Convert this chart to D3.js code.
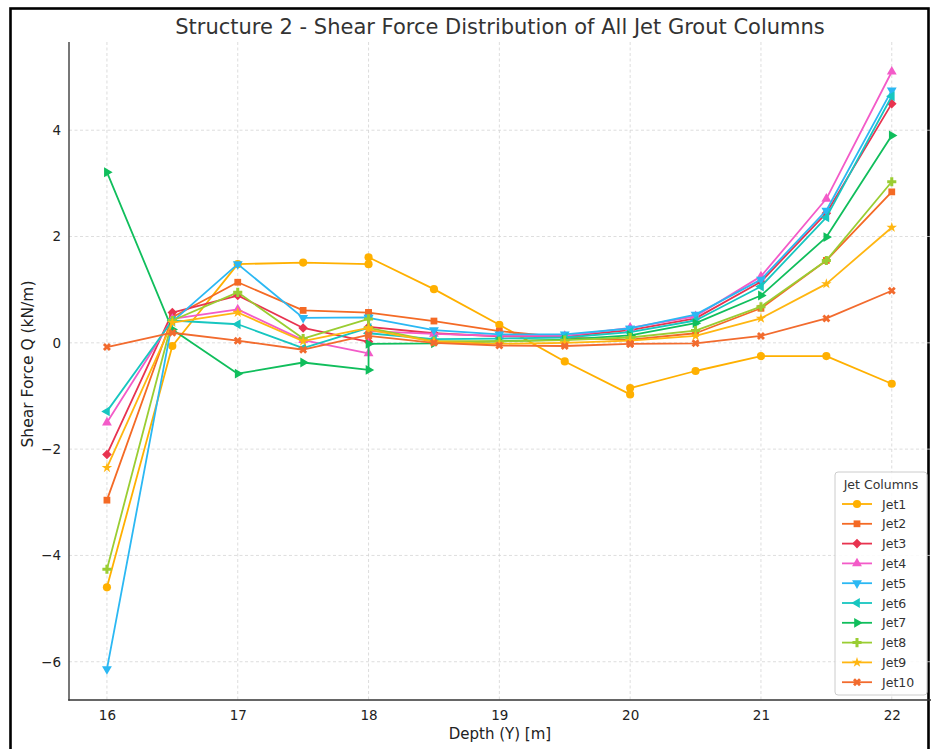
<!DOCTYPE html>
<html>
<head>
<meta charset="utf-8">
<script src="https://cdn.jsdelivr.net/npm/d3@7"></script>
<style>
  html, body { margin: 0; padding: 0; background: #fff; }
  svg { display: block; font-family: "DejaVu Sans", sans-serif; }
</style>
</head>
<body>
<svg id="chart" width="933" height="749"></svg>
<script>
// Depth stations (m); 18 and 20 appear twice where the analysis segments meet
const depth = [16, 16.5, 17, 17.5, 18, 18, 18.5, 19, 19.5, 20, 20, 20.5, 21, 21.5, 22];

// Shear force Q (kN/m) per jet grout column
const jet1  = [-4.60, -0.06, 1.48, 1.51, 1.48, 1.61, 1.01, 0.34, -0.35, -0.97, -0.85, -0.53, -0.25, -0.25, -0.77];
const jet2  = [-2.96, 0.48, 1.14, 0.61, 0.57, 0.57, 0.41, 0.22, 0.10, 0.05, 0.06, 0.18, 0.65, 1.55, 2.84];
const jet3  = [-2.10, 0.57, 0.89, 0.28, 0.02, 0.30, 0.18, 0.12, 0.12, 0.24, 0.24, 0.46, 1.15, 2.44, 4.50];
const jet4  = [-1.50, 0.45, 0.63, 0.05, -0.20, 0.22, 0.17, 0.13, 0.13, 0.28, 0.28, 0.50, 1.25, 2.71, 5.10];
const jet5  = [-6.14, 0.40, 1.48, 0.47, 0.48, 0.47, 0.24, 0.16, 0.16, 0.27, 0.27, 0.53, 1.19, 2.49, 4.75];
const jet6  = [-1.29, 0.42, 0.35, -0.10, 0.28, 0.18, 0.07, 0.08, 0.10, 0.20, 0.20, 0.42, 1.06, 2.36, 4.64];
const jet7  = [3.21, 0.25, -0.58, -0.37, -0.51, -0.02, -0.01, 0.03, 0.06, 0.14, 0.14, 0.37, 0.89, 1.99, 3.90];
const jet8  = [-4.26, 0.42, 0.95, 0.08, 0.45, 0.28, 0.03, 0.03, 0.05, 0.10, 0.10, 0.23, 0.68, 1.55, 3.03];
const jet9  = [-2.35, 0.38, 0.57, 0.03, 0.28, 0.25, 0.02, -0.02, 0.00, 0.04, 0.04, 0.13, 0.46, 1.11, 2.17];
const jet10 = [-0.08, 0.19, 0.04, -0.13, 0.15, 0.13, 0.00, -0.05, -0.06, -0.02, -0.02, -0.01, 0.13, 0.46, 0.98];

const seriesNames = ["Jet1", "Jet2", "Jet3", "Jet4", "Jet5", "Jet6", "Jet7", "Jet8", "Jet9", "Jet10"];
const seriesValues = [jet1, jet2, jet3, jet4, jet5, jet6, jet7, jet8, jet9, jet10];
const seriesColors = ["#FFB000", "#F46A25", "#E8334F", "#F35BC8", "#2BB8F3",
                      "#17C6C0", "#10BE5C", "#9ACD32", "#FFB611", "#F26B2E"];

const xTicks = [16, 17, 18, 19, 20, 21, 22];
const yTicks = [-6, -4, -2, 0, 2, 4];

const titleText = "Structure 2 - Shear Force Distribution of All Jet Grout Columns";
const xLabel = "Depth (Y) [m]";
const yLabel = "Shear Force Q (kN/m)";
const legendTitle = "Jet Columns";

// ---- layout ----
const plot = { left: 69, right: 931, top: 42, bottom: 700 };
const svg = d3.select("#chart");

const x = d3.scaleLinear().domain([15.71, 22.30]).range([plot.left, plot.right]);
const y = d3.scaleLinear().domain([-6.72, 5.66]).range([plot.bottom, plot.top]);

// outer frame
svg.append("rect")
  .attr("x", 10.5).attr("y", 8.5).attr("width", 918).attr("height", 760)
  .attr("fill", "none").attr("stroke", "#000").attr("stroke-width", 2.6);

// grid
const grid = svg.append("g");
grid.selectAll("line.gx").data(xTicks).join("line")
  .attr("x1", d => x(d)).attr("x2", d => x(d))
  .attr("y1", plot.top).attr("y2", plot.bottom)
  .attr("stroke", "#d4d4d4").attr("stroke-width", 0.8).attr("stroke-dasharray", "3,2.5");
grid.selectAll("line.gy").data(yTicks).join("line")
  .attr("y1", d => y(d)).attr("y2", d => y(d))
  .attr("x1", plot.left).attr("x2", plot.right)
  .attr("stroke", "#d4d4d4").attr("stroke-width", 0.8).attr("stroke-dasharray", "3,2.5");

// axes
const fmt = d => (d < 0 ? "\u2212" + Math.abs(d) : String(d));
const xAxis = svg.append("g").attr("transform", `translate(0,${plot.bottom})`)
  .call(d3.axisBottom(x).tickValues(xTicks).tickFormat(fmt).tickSize(0).tickPadding(10));
const yAxis = svg.append("g").attr("transform", `translate(${plot.left},0)`)
  .call(d3.axisLeft(y).tickValues(yTicks).tickFormat(fmt).tickSize(0).tickPadding(8));
[xAxis, yAxis].forEach(g => {
  g.select(".domain").remove();
  g.selectAll("text").attr("font-size", 13.5).attr("fill", "#222")
    .attr("font-family", "DejaVu Sans, sans-serif");
});

// spines
svg.append("line").attr("x1", plot.left).attr("x2", plot.left)
  .attr("y1", plot.top).attr("y2", plot.bottom + 0.5)
  .attr("stroke", "#555").attr("stroke-width", 1.6);
svg.append("line").attr("x1", plot.left - 0.8).attr("x2", plot.right)
  .attr("y1", plot.bottom).attr("y2", plot.bottom)
  .attr("stroke", "#333").attr("stroke-width", 1.6);

// titles
svg.append("text").attr("x", 500).attr("y", 34).attr("text-anchor", "middle")
  .attr("font-size", 21).attr("fill", "#333").text(titleText);
svg.append("text").attr("x", 500).attr("y", 739).attr("text-anchor", "middle")
  .attr("font-size", 15).attr("fill", "#222").text(xLabel);
svg.append("text").attr("transform", "translate(33,364) rotate(-90)")
  .attr("text-anchor", "middle").attr("font-size", 15.5).attr("fill", "#222").text(yLabel);

// marker shapes per series
const tri = d3.symbol().type(d3.symbolTriangle).size(42)();
const markers = [
  { path: d3.symbol().type(d3.symbolCircle).size(52)(), rot: 0 },
  { path: d3.symbol().type(d3.symbolSquare).size(46)(), rot: 0 },
  { path: d3.symbol().type(d3.symbolSquare).size(46)(), rot: 45 },
  { path: tri, rot: 0 },
  { path: tri, rot: 180 },
  { path: tri, rot: -90 },
  { path: tri, rot: 90 },
  { path: d3.symbol().type(d3.symbolCross).size(46)(), rot: 0 },
  { path: d3.symbol().type(d3.symbolStar).size(34)(), rot: 0 },
  { path: d3.symbol().type(d3.symbolCross).size(40)(), rot: 45 }
];

const line = d3.line().x(d => x(d[0])).y(d => y(d[1]));

seriesValues.forEach((vals, i) => {
  const pts = depth.map((dv, k) => [dv, vals[k]]);
  const g = svg.append("g");
  g.append("path").attr("d", line(pts)).attr("fill", "none")
    .attr("stroke", seriesColors[i]).attr("stroke-width", 1.8)
    .attr("stroke-linejoin", "round");
  g.selectAll("path.m").data(pts).join("path").attr("class", "m")
    .attr("d", markers[i].path)
    .attr("transform", d => `translate(${x(d[0])},${y(d[1])}) rotate(${markers[i].rot})`)
    .attr("fill", seriesColors[i]);
});

// legend
const lg = svg.append("g").attr("transform", "translate(835,472)");
lg.append("rect").attr("x", 0).attr("y", 0).attr("width", 92).attr("height", 223)
  .attr("rx", 3).attr("fill", "#fff").attr("fill-opacity", 0.85)
  .attr("stroke", "#ccc").attr("stroke-width", 1);
lg.append("text").attr("x", 46).attr("y", 17).attr("text-anchor", "middle")
  .attr("font-size", 12.5).attr("fill", "#333").text(legendTitle);
seriesNames.forEach((name, i) => {
  const cy = 32 + i * 19.8;
  const row = lg.append("g");
  row.append("line").attr("x1", 7).attr("x2", 37).attr("y1", cy).attr("y2", cy)
    .attr("stroke", seriesColors[i]).attr("stroke-width", 1.8);
  row.append("path").attr("d", markers[i].path)
    .attr("transform", `translate(22,${cy}) rotate(${markers[i].rot})`)
    .attr("fill", seriesColors[i]);
  row.append("text").attr("x", 47).attr("y", cy + 4.5)
    .attr("font-size", 12.5).attr("fill", "#333").text(name);
});
</script>
</body>
</html>
